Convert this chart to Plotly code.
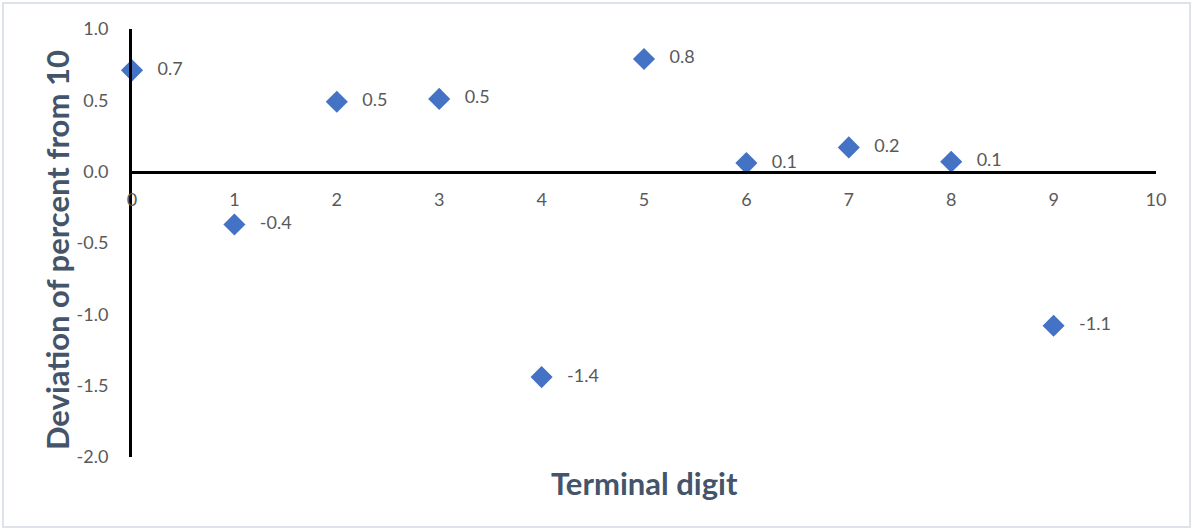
import plotly.graph_objects as go

# Terminal digit vs. deviation of its share (percent) from the expected 10%
digits = [0, 1, 2, 3, 4, 5, 6, 7, 8, 9]
deviation = [0.71, -0.37, 0.49, 0.51, -1.44, 0.79, 0.06, 0.17, 0.07, -1.08]

x_ticks = [0, 1, 2, 3, 4, 5, 6, 7, 8, 9, 10]
y_ticks = [1.0, 0.5, 0.0, -0.5, -1.0, -1.5, -2.0]
y_tick_labels = ["1.0", "0.5", "0.0", "-0.5", "-1.0", "-1.5", "-2.0"]

FONT = "Lato, 'Open Sans', sans-serif"
TICK_COLOR = "#595959"
TITLE_COLOR = "#44546A"
MARKER_COLOR = "#4472C4"

W, H = 1192, 528
L, R, T, B = 132, 36, 29, 71
y_min, y_max = -2.0, 1.0

fig = go.Figure()
fig.add_trace(go.Scatter(
    x=digits,
    y=deviation,
    mode="markers+text",
    marker=dict(symbol="diamond", size=17, color=MARKER_COLOR),
    texttemplate="   %{y:.1f}",
    textposition="middle right",
    textfont=dict(family=FONT, size=18, color=TICK_COLOR),
    cliponaxis=False,
    hoverinfo="x+y",
))

# The horizontal axis crosses the vertical one at y = 0
x_axis_pos = (0 - y_min) / (y_max - y_min)

fig.update_layout(
    width=W,
    height=H,
    margin=dict(l=L, r=R, t=T, b=B),
    paper_bgcolor="white",
    plot_bgcolor="white",
    showlegend=False,
    xaxis=dict(
        range=[0, 10],
        tickvals=x_ticks,
        showgrid=False,
        zeroline=False,
        showline=True,
        linecolor="black",
        linewidth=3,
        anchor="free",
        position=x_axis_pos,
        ticks="",
        ticklabelstandoff=11,
        tickfont=dict(family=FONT, size=18, color=TICK_COLOR),
    ),
    yaxis=dict(
        range=[y_min, y_max],
        tickvals=y_ticks,
        ticktext=y_tick_labels,
        showgrid=False,
        zeroline=False,
        showline=True,
        linecolor="black",
        linewidth=3,
        ticks="",
        ticklabelstandoff=17,
        tickfont=dict(family=FONT, size=18, color=TICK_COLOR),
    ),
    annotations=[
        dict(
            text="<b>Terminal digit</b>",
            xref="paper", yref="paper",
            x=0.5, y=(H - 483 - B) / (H - T - B),
            xanchor="center", yanchor="middle",
            showarrow=False,
            font=dict(family=FONT, size=31, color=TITLE_COLOR),
        ),
        dict(
            text="<b>Deviation of percent from 10</b>",
            xref="paper", yref="paper",
            x=(57 - L) / (W - L - R), y=(H - 250 - B) / (H - T - B),
            xanchor="center", yanchor="middle",
            textangle=-90,
            showarrow=False,
            font=dict(family=FONT, size=31, color=TITLE_COLOR),
        ),
    ],
    shapes=[
        dict(
            type="rect",
            xref="paper", yref="paper",
            x0=(3 - L) / (W - L - R), x1=(1190 - L) / (W - L - R),
            y0=(H - 527 - B) / (H - T - B), y1=(H - 3 - B) / (H - T - B),
            line=dict(color="#DEE3EA", width=2),
            fillcolor="rgba(0,0,0,0)",
            layer="below",
        )
    ],
)

fig.write_html("out.html")
